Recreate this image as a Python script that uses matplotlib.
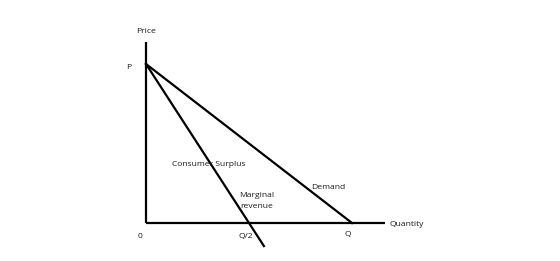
import matplotlib
matplotlib.use("Agg")
import matplotlib.pyplot as plt

# Monopoly diagram: linear demand P -> Q, marginal revenue P -> Q/2
price_intercept = 1.0
quantity_intercept = 1.0
demand_x = [0.0, quantity_intercept]
demand_y = [price_intercept, 0.0]
mr_x = [0.0, quantity_intercept / 2]
mr_y = [price_intercept, 0.0]
mr_extend_y = -0.145

fig = plt.figure(figsize=(5.6, 2.61), dpi=100, facecolor="white")
ax = fig.add_axes([0, 0, 1, 1])
ax.set_xlim(-146 / 206, (560 - 146) / 206)
ax.set_ylim(-(261 - 223) / 159, 223 / 159)
ax.set_axis_off()

lw = 1.6
# axes of the diagram
ax.plot([0, 0], [0, 1.14], color="black", lw=lw, solid_capstyle="butt")
ax.plot([0, 1.16], [0, 0], color="black", lw=lw, solid_capstyle="butt")

# demand
ax.plot(demand_x, demand_y, color="black", lw=lw)
# marginal revenue, extended below the quantity axis
slope = (mr_y[1] - mr_y[0]) / (mr_x[1] - mr_x[0])
mr_end_x = mr_x[0] + (mr_extend_y - mr_y[0]) / slope
ax.plot([mr_x[0], mr_end_x], [mr_y[0], mr_extend_y], color="black", lw=lw)

fs = 6.1
fam = "Open Sans"
kw = dict(fontsize=fs, family=fam, color="#1a1a1a")
ax.text(0, 1.205, "Price", ha="center", va="center", **kw)
ax.text(-0.085, 0.975, "P", ha="center", va="center", **kw)
ax.text(-0.03, -0.085, "0", ha="center", va="center", **kw)
ax.text(quantity_intercept / 2 - 0.015, -0.085, "Q/2", ha="center", va="center", **kw)
ax.text(quantity_intercept - 0.02, -0.075, "Q", ha="center", va="center", **kw)
ax.text(1.18, -0.01, "Quantity", ha="left", va="center", **kw)
ax.text(0.885, 0.225, "Demand", ha="center", va="center", **kw)
ax.text(0.305, 0.365, "Consumer Surplus", ha="center", va="center", **kw)
ax.text(0.535, 0.14, "Marginal\nrevenue", ha="center", va="center",
        linespacing=1.75, **kw)

fig.savefig("out.png", dpi=100, facecolor="white")
